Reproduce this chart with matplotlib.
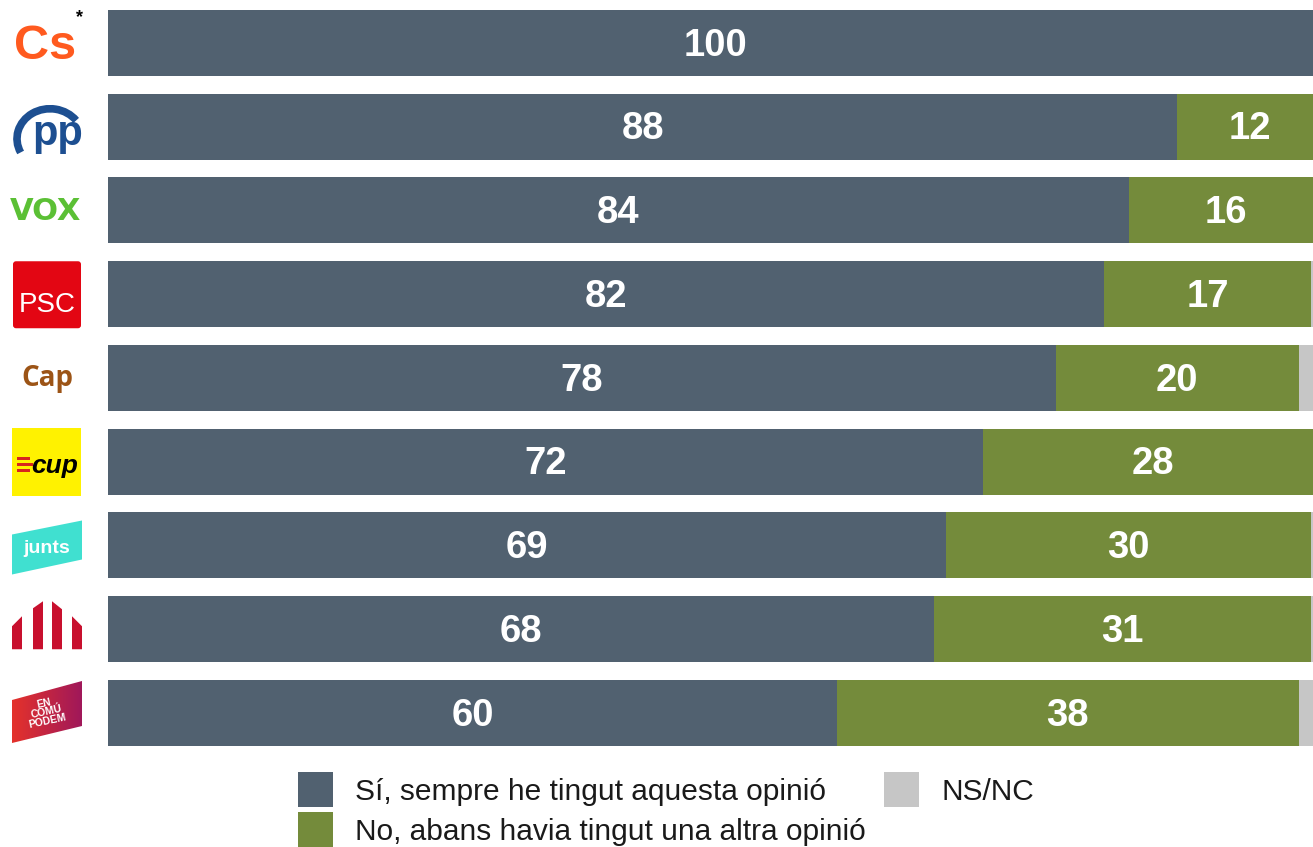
import matplotlib
matplotlib.use("Agg")
import matplotlib.pyplot as plt
import numpy as np
from matplotlib.patches import Rectangle, Polygon, Arc, FancyBboxPatch
from matplotlib.colors import LinearSegmentedColormap

# ---- data ----
parties = ["Cs", "PP", "VOX", "PSC", "Cap", "CUP", "Junts", "ERC", "Comuns"]
si = [100, 88, 84, 82, 78, 72, 69, 68, 60]
no = [0, 12, 16, 17, 20, 28, 30, 31, 38]
nsnc = [0, 0, 0, 1, 2, 0, 1, 1, 2]
legend_labels = ["Sí, sempre he tingut aquesta opinió",
                 "No, abans havia tingut una altra opinió",
                 "NS/NC"]

C_SI = "#516170"
C_NO = "#748B3B"
C_NS = "#C6C6C6"

W, H = 1313, 847
fig = plt.figure(figsize=(W / 100, H / 100), dpi=100)
fig.patch.set_facecolor("white")

AX_TOP, AX_BOT = 0, 760
LEFT = 108
ax = fig.add_axes([LEFT / W, 1 - AX_BOT / H, (W - LEFT) / W, (AX_BOT - AX_TOP) / H])
step = 83.75
c0 = 43
ax.set_ylim((AX_BOT - c0) / step, (AX_TOP - c0) / step)
ax.set_xlim(0, (W - LEFT) / 12.15)
ax.axis("off")

y = np.arange(len(parties))
si_a = np.array(si, float)
no_a = np.array(no, float)
ns_a = np.array(nsnc, float)
bh = 66 / step
ax.barh(y, si_a, height=bh, color=C_SI, edgecolor="none")
ax.barh(y, no_a, left=si_a, height=bh, color=C_NO, edgecolor="none")
ax.barh(y, ns_a, left=si_a + no_a, height=bh, color=C_NS, edgecolor="none")

lab_font = dict(color="white", fontsize=27.5, fontweight="bold",
                family=["Liberation Sans", "DejaVu Sans"], ha="center", va="center")
for i in range(len(parties)):
    if si_a[i] > 0:
        ax.text(si_a[i] / 2, i + 0.03, f"{si[i]}", **lab_font)
    if no_a[i] > 0:
        ax.text(si_a[i] + no_a[i] / 2, i + 0.03, f"{no[i]}", **lab_font)

# ---- logos (pixel-coordinate axes) ----
lx = fig.add_axes([0, 1 - AX_BOT / H, LEFT / W, (AX_BOT - AX_TOP) / H])
lx.set_xlim(0, LEFT)
lx.set_ylim(AX_BOT, AX_TOP)
lx.axis("off")

def yc(i):
    return c0 + step * i

SANS = ["Liberation Sans", "DejaVu Sans"]

# Cs
lx.text(45, yc(0) + 3, "Cs", color="#FF5A1F", fontsize=35, fontweight="bold",
        family=SANS, ha="center", va="center")
lx.text(79, yc(0) - 25, "*", color="black", fontsize=13, fontweight="bold",
        family=SANS, ha="center", va="center")

# PP
lx.add_patch(Arc((50, yc(1) + 12), 66, 60, theta1=155, theta2=325,
                 color="#1D4F91", lw=5.5))
lx.text(58, yc(1) + 7, "pp", color="#1D4F91", fontsize=30, fontweight="bold",
        family=SANS, ha="center", va="center")

# VOX
lx.text(46, yc(2) + 1, "VOX", color="#5BC035", fontsize=22, fontweight="bold",
        family=["DejaVu Sans"], ha="center", va="center")

# PSC
lx.add_patch(FancyBboxPatch((13, yc(3) - 33), 68, 67, boxstyle="round,pad=0,rounding_size=3",
                            color="#E30613", lw=0))
lx.text(47, yc(3) + 11, "PSC", color="white", fontsize=20,
        family=SANS, ha="center", va="center")

# Cap
lx.text(47, yc(4), "Cap", color="#9C5416", fontsize=20, fontweight="bold",
        family=["Open Sans", "DejaVu Sans"], ha="center", va="center")

# CUP
lx.add_patch(Rectangle((12, yc(5) - 34), 69, 68, color="#FFF200", lw=0))
for k, dy in enumerate([-6, 0, 6]):
    lx.add_patch(Rectangle((17, yc(5) + dy + 1), 16 - 3 * abs(k - 1), 3, color="#D7261E", lw=0))
lx.text(55, yc(5) + 4, "cup", color="black", fontsize=19, fontweight="bold", style="italic",
        family=SANS, ha="center", va="center")

# Junts
b = yc(6)
lx.add_patch(Polygon([(12, b - 11), (82, b - 25), (82, b + 14), (12, b + 29)],
                     closed=True, color="#40E0D0", lw=0))
lx.text(47, b + 3, "junts", color="white", fontsize=14, fontweight="bold",
        family=SANS, ha="center", va="center")

# ERC
b = yc(7)
bot = b + 20
red = "#C8102E"
for pts in [
    [(12, bot), (22, bot), (22, b - 13), (12, b - 3)],
    [(33, bot), (43, bot), (43, b - 28), (33, b - 21)],
    [(52, bot), (62, bot), (62, b - 20), (52, b - 28)],
    [(72, bot), (82, bot), (82, b - 3), (72, b - 13)],
]:
    lx.add_patch(Polygon(pts, closed=True, color=red, lw=0))

# Comuns
b = yc(8)
poly = Polygon([(12, b - 13), (82, b - 32), (82, b + 13), (12, b + 30)],
               closed=True, facecolor="none", lw=0)
lx.add_patch(poly)
cmap = LinearSegmentedColormap.from_list("cm", ["#E4322B", "#A0185A"])
grad = np.linspace(0, 1, 100).reshape(1, -1)
im = lx.imshow(grad, cmap=cmap, extent=(12, 82, b + 31, b - 33), aspect="auto", zorder=1)
im.set_clip_path(poly)
lx.set_xlim(0, LEFT)
lx.set_ylim(AX_BOT, AX_TOP)
lx.text(46, b - 1, "EN\nCOMÚ\nPODEM", color="white", fontsize=7.5, fontweight="bold",
        family=SANS, ha="center", va="center", rotation=12, linespacing=0.85, zorder=3)

# ---- legend (manual) ----
LFONT = ["Liberation Sans", "DejaVu Sans"]
def px_rect(x0, y0, w, h, color):
    fig.add_artist(Rectangle((x0 / W, 1 - (y0 + h) / H), w / W, h / H,
                             transform=fig.transFigure, color=color, lw=0))

entries = [(298, 772, C_SI, legend_labels[0]),
           (298, 812, C_NO, legend_labels[1]),
           (884, 772, C_NS, legend_labels[2])]
for x0, y0, col, lab in entries:
    px_rect(x0, y0, 35, 35, col)
    fig.text((x0 + 57) / W, 1 - (y0 + 20) / H, lab, fontsize=21.5, family=LFONT,
             color="#1a1a1a", ha="left", va="center")

fig.savefig("out.png", dpi=100, facecolor="white")
